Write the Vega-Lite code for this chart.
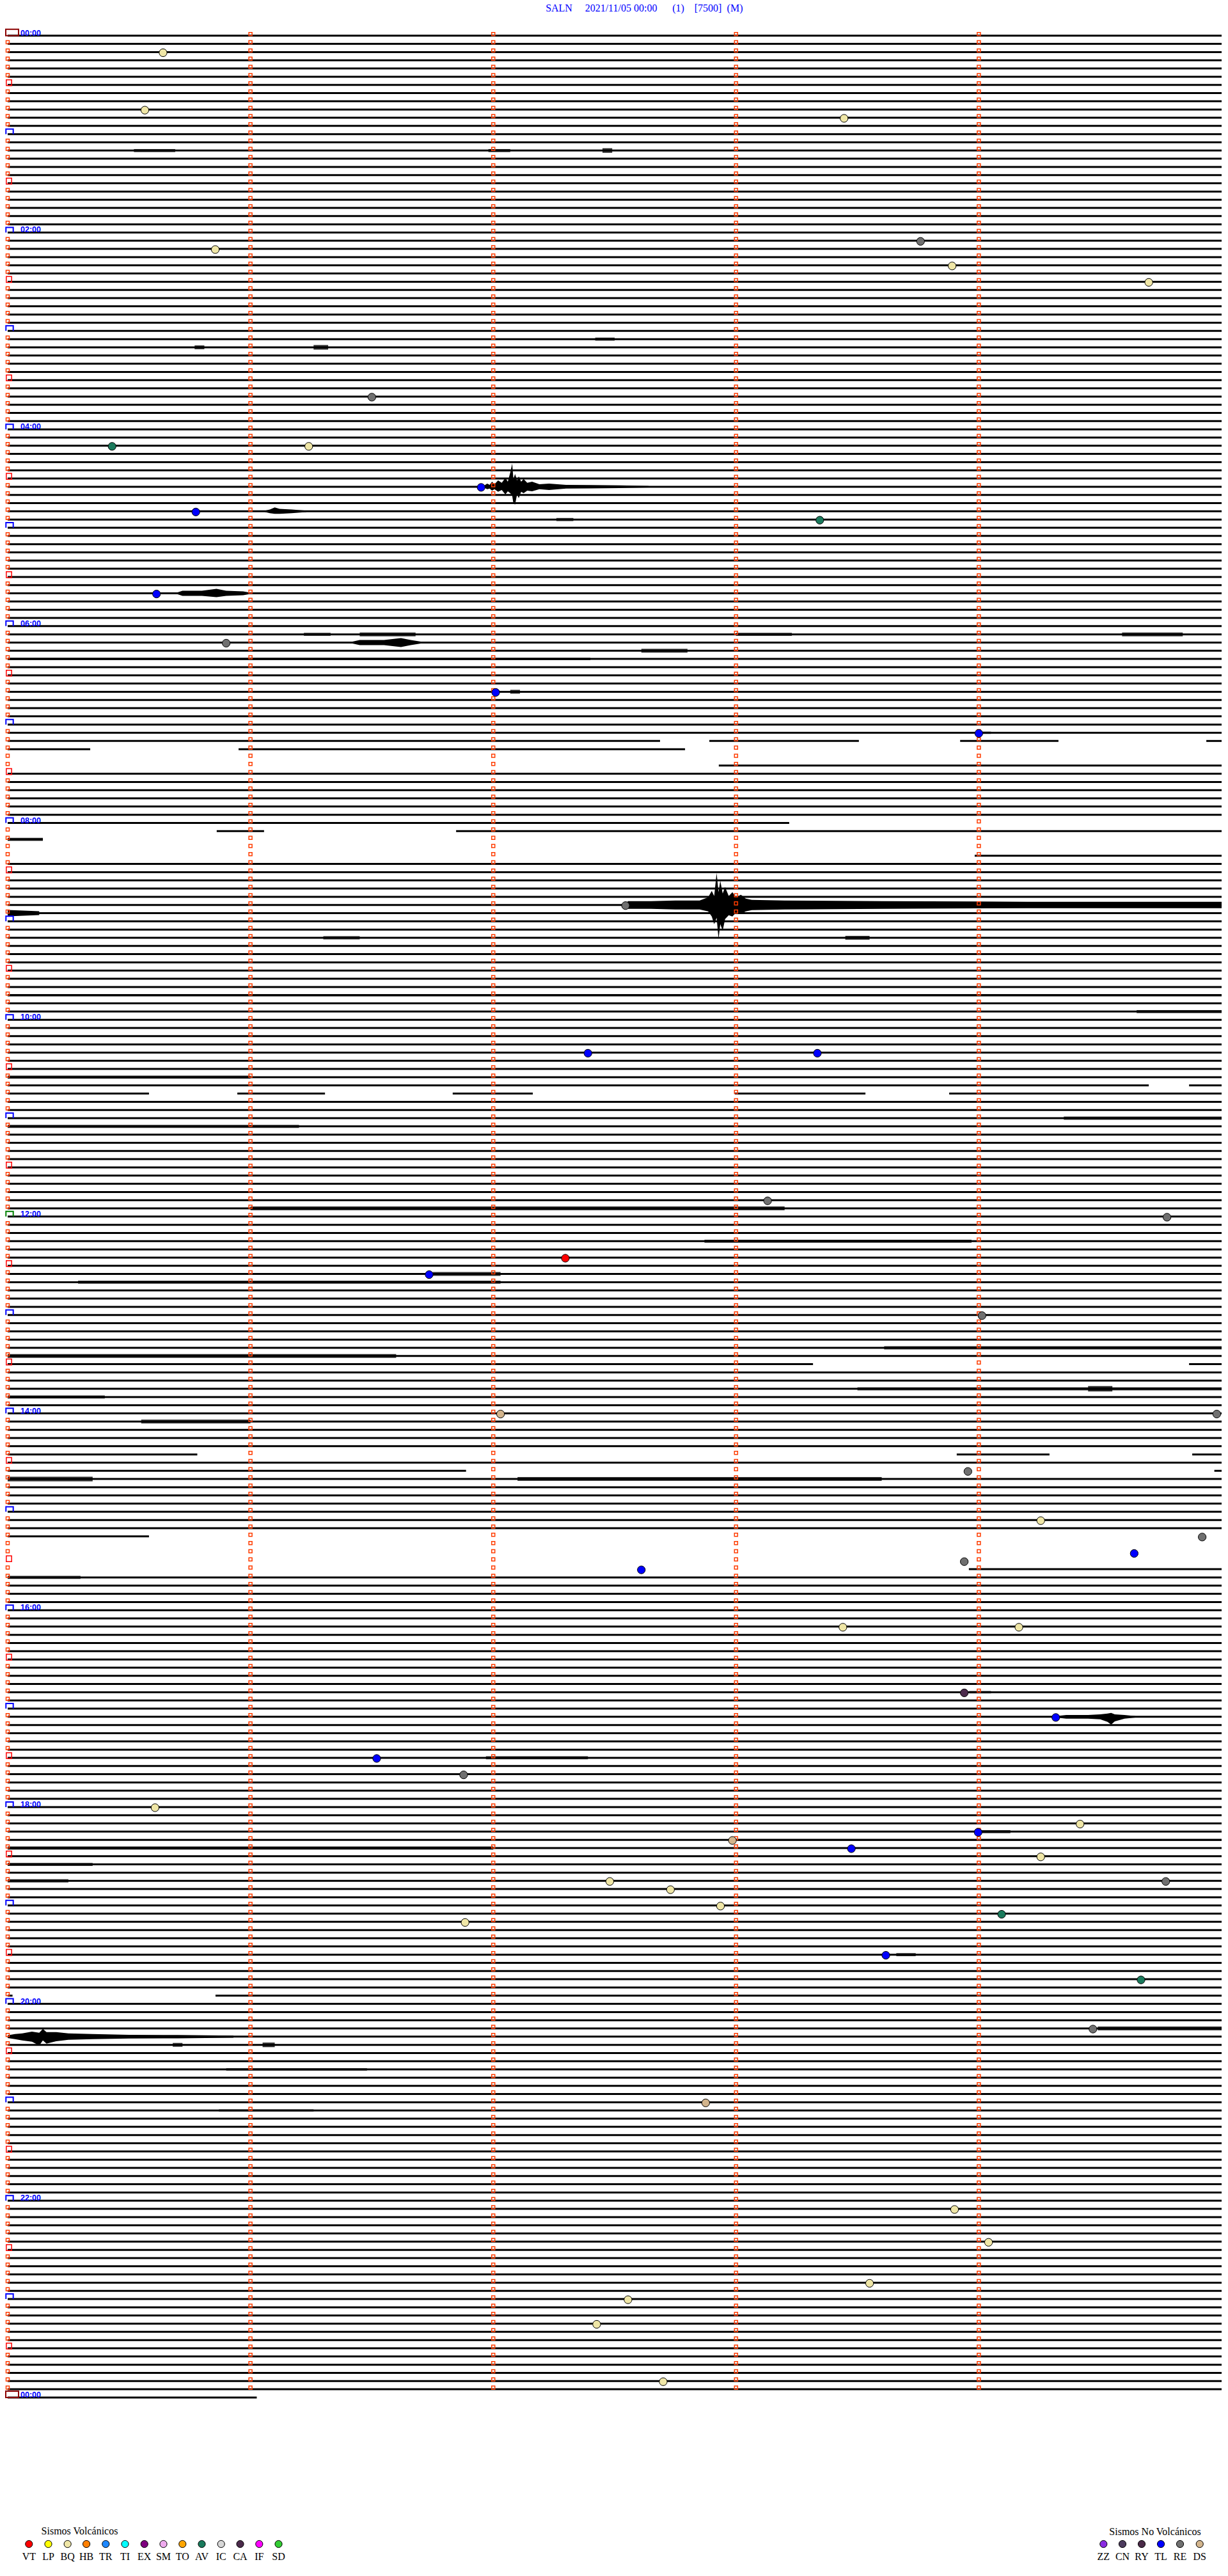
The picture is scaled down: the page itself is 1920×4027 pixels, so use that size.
{
"$schema":"https://vega.github.io/schema/vega-lite/v6.json",
"width":1920,"height":4027,"padding":0,
"autosize":{"type":"fit","contains":"padding"},
"background":"white",
"config":{"view":{"stroke":null}},
"datasets":{
"traza":[
{"r":0,"a":0,"b":5},{"r":1,"a":0,"b":5},{"r":2,"a":0,"b":5},{"r":3,"a":0,"b":5},{"r":4,"a":0,"b":5},{"r":5,"a":0,"b":5},{"r":6,"a":0,"b":5},{"r":7,"a":0,"b":5},{"r":8,"a":0,"b":5},{"r":9,"a":0,"b":5},
{"r":10,"a":0,"b":5},{"r":11,"a":0,"b":5},{"r":12,"a":0,"b":5},{"r":13,"a":0,"b":5},{"r":14,"a":0,"b":5},{"r":15,"a":0,"b":5},{"r":16,"a":0,"b":5},{"r":17,"a":0,"b":5},{"r":18,"a":0,"b":5},{"r":19,"a":0,"b":5},
{"r":20,"a":0,"b":5},{"r":21,"a":0,"b":5},{"r":22,"a":0,"b":5},{"r":23,"a":0,"b":5},{"r":24,"a":0,"b":5},{"r":25,"a":0,"b":5},{"r":26,"a":0,"b":5},{"r":27,"a":0,"b":5},{"r":28,"a":0,"b":5},{"r":29,"a":0,"b":5},
{"r":30,"a":0,"b":5},{"r":31,"a":0,"b":5},{"r":32,"a":0,"b":5},{"r":33,"a":0,"b":5},{"r":34,"a":0,"b":5},{"r":35,"a":0,"b":5},{"r":36,"a":0,"b":5},{"r":37,"a":0,"b":5},{"r":38,"a":0,"b":5},{"r":39,"a":0,"b":5},
{"r":40,"a":0,"b":5},{"r":41,"a":0,"b":5},{"r":42,"a":0,"b":5},{"r":43,"a":0,"b":5},{"r":44,"a":0,"b":5},{"r":45,"a":0,"b":5},{"r":46,"a":0,"b":5},{"r":47,"a":0,"b":5},{"r":48,"a":0,"b":5},{"r":49,"a":0,"b":5},
{"r":50,"a":0,"b":5},{"r":51,"a":0,"b":5},{"r":52,"a":0,"b":5},{"r":53,"a":0,"b":5},{"r":54,"a":0,"b":5},{"r":55,"a":0,"b":5},{"r":56,"a":0,"b":5},{"r":57,"a":0,"b":5},{"r":58,"a":0,"b":5},{"r":59,"a":0,"b":5},
{"r":60,"a":0,"b":5},{"r":61,"a":0,"b":5},{"r":62,"a":0,"b":5},{"r":63,"a":0,"b":5},{"r":64,"a":0,"b":5},{"r":65,"a":0,"b":5},{"r":66,"a":0,"b":5},{"r":67,"a":0,"b":5},{"r":68,"a":0,"b":5},{"r":69,"a":0,"b":5},
{"r":70,"a":0,"b":5},{"r":71,"a":0,"b":5},{"r":72,"a":0,"b":5},{"r":73,"a":0,"b":5},{"r":74,"a":0,"b":5},{"r":75,"a":0,"b":5},{"r":76,"a":0,"b":5},{"r":77,"a":0,"b":5},{"r":78,"a":0,"b":5},{"r":79,"a":0,"b":5},
{"r":80,"a":0,"b":5},{"r":81,"a":0,"b":5},{"r":82,"a":0,"b":5},{"r":83,"a":0,"b":5},{"r":84,"a":0,"b":5},{"r":85,"a":0,"b":5},
{"r":86,"a":0,"b":2.687},{"r":86,"a":2.89,"b":3.506},{"r":86,"a":3.923,"b":4.328},{"r":86,"a":4.937,"b":5},
{"r":87,"a":0,"b":0.34},{"r":87,"a":0.951,"b":2.79},
{"r":89,"a":2.929,"b":5},
{"r":90,"a":0,"b":5},{"r":91,"a":0,"b":5},{"r":92,"a":0,"b":5},{"r":93,"a":0,"b":5},{"r":94,"a":0,"b":5},{"r":95,"a":0,"b":5},
{"r":96,"a":0,"b":3.219},
{"r":97,"a":0.861,"b":1.056},{"r":97,"a":1.847,"b":5},
{"r":98,"a":0,"b":0.145},
{"r":100,"a":3.983,"b":5},
{"r":101,"a":0,"b":5},{"r":102,"a":0,"b":5},{"r":103,"a":0,"b":5},{"r":104,"a":0,"b":5},{"r":105,"a":0,"b":5},{"r":106,"a":0,"b":5},{"r":107,"a":0,"b":5},{"r":108,"a":0,"b":5},{"r":109,"a":0,"b":5},
{"r":110,"a":0,"b":5},{"r":111,"a":0,"b":5},{"r":112,"a":0,"b":5},{"r":113,"a":0,"b":5},{"r":114,"a":0,"b":5},{"r":115,"a":0,"b":5},{"r":116,"a":0,"b":5},{"r":117,"a":0,"b":5},{"r":118,"a":0,"b":5},{"r":119,"a":0,"b":5},
{"r":120,"a":0,"b":5},{"r":121,"a":0,"b":5},{"r":122,"a":0,"b":5},{"r":123,"a":0,"b":5},{"r":124,"a":0,"b":5},{"r":125,"a":0,"b":5},{"r":126,"a":0,"b":5},{"r":127,"a":0,"b":5},
{"r":128,"a":0,"b":4.70},{"r":128,"a":4.866,"b":5},
{"r":129,"a":0,"b":0.582},{"r":129,"a":0.946,"b":1.307},{"r":129,"a":1.833,"b":2.163},{"r":129,"a":2.995,"b":3.533},{"r":129,"a":3.878,"b":5},
{"r":130,"a":0,"b":5},{"r":131,"a":0,"b":5},{"r":132,"a":0,"b":5},{"r":133,"a":0,"b":5},{"r":134,"a":0,"b":5},{"r":135,"a":0,"b":5},{"r":136,"a":0,"b":5},{"r":137,"a":0,"b":5},{"r":138,"a":0,"b":5},{"r":139,"a":0,"b":5},
{"r":140,"a":0,"b":5},{"r":141,"a":0,"b":5},{"r":142,"a":0,"b":5},{"r":143,"a":0,"b":5},{"r":144,"a":0,"b":5},{"r":145,"a":0,"b":5},{"r":146,"a":0,"b":5},{"r":147,"a":0,"b":5},{"r":148,"a":0,"b":5},{"r":149,"a":0,"b":5},
{"r":150,"a":0,"b":5},{"r":151,"a":0,"b":5},{"r":152,"a":0,"b":5},{"r":153,"a":0,"b":5},{"r":154,"a":0,"b":5},{"r":155,"a":0,"b":5},{"r":156,"a":0,"b":5},{"r":157,"a":0,"b":5},{"r":158,"a":0,"b":5},{"r":159,"a":0,"b":5},
{"r":160,"a":0,"b":5},{"r":161,"a":0,"b":5},
{"r":162,"a":0,"b":3.317},{"r":162,"a":4.866,"b":5},
{"r":163,"a":0,"b":5},{"r":164,"a":0,"b":5},{"r":165,"a":0,"b":5},{"r":166,"a":0,"b":5},{"r":167,"a":0,"b":5},{"r":168,"a":0,"b":5},{"r":169,"a":0,"b":5},{"r":170,"a":0,"b":5},{"r":171,"a":0,"b":5},{"r":172,"a":0,"b":5},
{"r":173,"a":0,"b":0.781},{"r":173,"a":3.909,"b":4.291},{"r":173,"a":4.879,"b":5},
{"r":174,"a":0,"b":5},
{"r":175,"a":0,"b":1.888},{"r":175,"a":4.97,"b":5},
{"r":176,"a":0,"b":5},{"r":177,"a":0,"b":5},{"r":178,"a":0,"b":5},{"r":179,"a":0,"b":5},{"r":180,"a":0,"b":5},{"r":181,"a":0,"b":5},{"r":182,"a":0,"b":5},
{"r":183,"a":0,"b":0.582},
{"r":187,"a":3.959,"b":5},
{"r":188,"a":0,"b":5},{"r":189,"a":0,"b":5},
{"r":190,"a":0,"b":5},{"r":191,"a":0,"b":5},{"r":192,"a":0,"b":5},{"r":193,"a":0,"b":5},{"r":194,"a":0,"b":5},{"r":195,"a":0,"b":5},{"r":196,"a":0,"b":5},{"r":197,"a":0,"b":5},{"r":198,"a":0,"b":5},{"r":199,"a":0,"b":5},
{"r":200,"a":0,"b":5},{"r":201,"a":0,"b":5},{"r":202,"a":0,"b":5},{"r":203,"a":0,"b":5},{"r":204,"a":0,"b":5},{"r":205,"a":0,"b":5},{"r":206,"a":0,"b":5},{"r":207,"a":0,"b":5},{"r":208,"a":0,"b":5},{"r":209,"a":0,"b":5},
{"r":210,"a":0,"b":5},{"r":211,"a":0,"b":5},{"r":212,"a":0,"b":5},{"r":213,"a":0,"b":5},{"r":214,"a":0,"b":5},{"r":215,"a":0,"b":5},{"r":216,"a":0,"b":5},{"r":217,"a":0,"b":5},{"r":218,"a":0,"b":5},{"r":219,"a":0,"b":5},
{"r":220,"a":0,"b":5},{"r":221,"a":0,"b":5},{"r":222,"a":0,"b":5},{"r":223,"a":0,"b":5},{"r":224,"a":0,"b":5},{"r":225,"a":0,"b":5},{"r":226,"a":0,"b":5},{"r":227,"a":0,"b":5},{"r":228,"a":0,"b":5},{"r":229,"a":0,"b":5},
{"r":230,"a":0,"b":5},{"r":231,"a":0,"b":5},{"r":232,"a":0,"b":5},{"r":233,"a":0,"b":5},{"r":234,"a":0,"b":5},{"r":235,"a":0,"b":5},{"r":236,"a":0,"b":5},{"r":237,"a":0,"b":5},{"r":238,"a":0,"b":5},
{"r":239,"a":0,"b":0.02},{"r":239,"a":0.856,"b":5},
{"r":240,"a":0,"b":5},{"r":241,"a":0,"b":5},{"r":242,"a":0,"b":5},{"r":243,"a":0,"b":5},{"r":244,"a":0,"b":5},{"r":245,"a":0,"b":5},{"r":246,"a":0,"b":5},{"r":247,"a":0,"b":5},{"r":248,"a":0,"b":5},{"r":249,"a":0,"b":5},
{"r":250,"a":0,"b":5},{"r":251,"a":0,"b":5},{"r":252,"a":0,"b":5},{"r":253,"a":0,"b":5},{"r":254,"a":0,"b":5},{"r":255,"a":0,"b":5},{"r":256,"a":0,"b":5},{"r":257,"a":0,"b":5},{"r":258,"a":0,"b":5},{"r":259,"a":0,"b":5},
{"r":260,"a":0,"b":5},{"r":261,"a":0,"b":5},{"r":262,"a":0,"b":5},{"r":263,"a":0,"b":5},{"r":264,"a":0,"b":5},{"r":265,"a":0,"b":5},{"r":266,"a":0,"b":5},{"r":267,"a":0,"b":5},{"r":268,"a":0,"b":5},{"r":269,"a":0,"b":5},
{"r":270,"a":0,"b":5},{"r":271,"a":0,"b":5},{"r":272,"a":0,"b":5},{"r":273,"a":0,"b":5},{"r":274,"a":0,"b":5},{"r":275,"a":0,"b":5},{"r":276,"a":0,"b":5},{"r":277,"a":0,"b":5},{"r":278,"a":0,"b":5},{"r":279,"a":0,"b":5},
{"r":280,"a":0,"b":5},{"r":281,"a":0,"b":5},{"r":282,"a":0,"b":5},{"r":283,"a":0,"b":5},{"r":284,"a":0,"b":5},{"r":285,"a":0,"b":5},{"r":286,"a":0,"b":5},{"r":287,"a":0,"b":5},
{"r":288,"a":0,"b":1.026}
],
"ruido":[
{"r":14,"a":0.52,"b":0.69,"amp":4},{"r":14,"a":1.98,"b":2.07,"amp":4},{"r":14,"a":2.45,"b":2.49,"amp":6},
{"r":37,"a":2.42,"b":2.5,"amp":4},{"r":38,"a":0.77,"b":0.81,"amp":5},{"r":38,"a":1.26,"b":1.32,"amp":6},
{"r":59,"a":2.26,"b":2.33,"amp":4},
{"r":73,"a":1.22,"b":1.33,"amp":4},{"r":73,"a":1.45,"b":1.68,"amp":5},{"r":73,"a":3.0,"b":3.23,"amp":4},{"r":73,"a":4.59,"b":4.84,"amp":5},
{"r":75,"a":2.61,"b":2.8,"amp":5},{"r":76,"a":0,"b":2.4,"amp":3},
{"r":80,"a":2.07,"b":2.11,"amp":5},{"r":85,"a":4.0,"b":4.05,"amp":3},
{"r":98,"a":0,"b":0.145,"amp":4},{"r":110,"a":1.3,"b":1.45,"amp":4},{"r":110,"a":3.45,"b":3.55,"amp":5},
{"r":117,"a":0,"b":5,"amp":3},{"r":118,"a":0,"b":5,"amp":2.5},{"r":119,"a":4.65,"b":5,"amp":4},
{"r":127,"a":0,"b":1.0,"amp":4},{"r":132,"a":4.35,"b":5,"amp":4},{"r":133,"a":0,"b":1.2,"amp":4},
{"r":143,"a":1.0,"b":3.2,"amp":5},{"r":147,"a":2.87,"b":3.97,"amp":4},{"r":151,"a":1.75,"b":2.03,"amp":5},
{"r":152,"a":0.29,"b":2.03,"amp":4},{"r":160,"a":3.61,"b":5,"amp":4},{"r":161,"a":0,"b":1.6,"amp":5},
{"r":165,"a":3.5,"b":5,"amp":4},{"r":165,"a":4.45,"b":4.55,"amp":7},{"r":166,"a":0,"b":0.4,"amp":4},
{"r":169,"a":0.55,"b":1.0,"amp":5},{"r":176,"a":0,"b":0.35,"amp":6},{"r":176,"a":2.1,"b":3.6,"amp":5},
{"r":188,"a":0,"b":0.3,"amp":4},{"r":202,"a":3.96,"b":4.05,"amp":3},{"r":210,"a":1.97,"b":2.39,"amp":4},
{"r":219,"a":4.01,"b":4.13,"amp":4},{"r":220,"a":3.0,"b":5,"amp":2.5},{"r":221,"a":0,"b":2.0,"amp":4},
{"r":223,"a":0,"b":0.35,"amp":4},{"r":225,"a":0,"b":0.25,"amp":4},{"r":234,"a":3.66,"b":3.74,"amp":4},
{"r":243,"a":4.49,"b":5,"amp":5},{"r":245,"a":0.68,"b":0.72,"amp":5},{"r":245,"a":1.05,"b":1.1,"amp":6},
{"r":248,"a":0.9,"b":1.48,"amp":3},{"r":253,"a":0.87,"b":1.26,"amp":3}
],
"ondas":[
{"id":"A","t":1.96,"hi":54.92,"lo":55.08},{"id":"A","t":1.975,"hi":54.61,"lo":55.31},{"id":"A","t":1.985,"hi":54.77,"lo":55.23},{"id":"A","t":1.995,"hi":54.38,"lo":55.47},{"id":"A","t":2.005,"hi":54.69,"lo":55.31},
{"id":"A","t":2.02,"hi":54.22,"lo":55.62},{"id":"A","t":2.035,"hi":54.53,"lo":55.39},{"id":"A","t":2.05,"hi":53.91,"lo":55.94},{"id":"A","t":2.06,"hi":54.38,"lo":55.55},{"id":"A","t":2.07,"hi":53.28,"lo":55.78},
{"id":"A","t":2.078,"hi":52.19,"lo":56.09},{"id":"A","t":2.083,"hi":54.06,"lo":57.03},{"id":"A","t":2.09,"hi":53.44,"lo":57.18},{"id":"A","t":2.098,"hi":54.22,"lo":55.94},{"id":"A","t":2.105,"hi":53.75,"lo":56.4},
{"id":"A","t":2.115,"hi":54.38,"lo":55.62},{"id":"A","t":2.125,"hi":54.06,"lo":55.78},{"id":"A","t":2.14,"hi":54.53,"lo":55.47},{"id":"A","t":2.16,"hi":54.38,"lo":55.55},{"id":"A","t":2.19,"hi":54.69,"lo":55.31},
{"id":"A","t":2.23,"hi":54.61,"lo":55.39},{"id":"A","t":2.3,"hi":54.77,"lo":55.23},{"id":"A","t":2.4,"hi":54.8,"lo":55.2},{"id":"A","t":2.52,"hi":54.84,"lo":55.16},{"id":"A","t":2.64,"hi":54.92,"lo":55.08},
{"id":"B","t":2.545,"hi":105.92,"lo":106.08},{"id":"B","t":2.555,"hi":105.53,"lo":106.47},{"id":"B","t":2.65,"hi":105.53,"lo":106.47},{"id":"B","t":2.75,"hi":105.45,"lo":106.55},{"id":"B","t":2.85,"hi":105.45,"lo":106.55},
{"id":"B","t":2.885,"hi":105.06,"lo":106.78},{"id":"B","t":2.9,"hi":104.28,"lo":107.4},{"id":"B","t":2.91,"hi":104.91,"lo":108.34},{"id":"B","t":2.92,"hi":102.1,"lo":107.56},{"id":"B","t":2.928,"hi":104.44,"lo":110.13},
{"id":"B","t":2.935,"hi":103.04,"lo":108.34},{"id":"B","t":2.945,"hi":104.6,"lo":109.12},{"id":"B","t":2.955,"hi":103.82,"lo":107.72},{"id":"B","t":2.97,"hi":104.91,"lo":107.25},{"id":"B","t":2.985,"hi":104.44,"lo":107.4},
{"id":"B","t":3.0,"hi":105.06,"lo":106.94},{"id":"B","t":3.02,"hi":104.75,"lo":107.09},{"id":"B","t":3.04,"hi":105.22,"lo":106.78},{"id":"B","t":3.065,"hi":105.38,"lo":106.62},{"id":"B","t":3.2,"hi":105.45,"lo":106.55},
{"id":"B","t":3.6,"hi":105.53,"lo":106.47},{"id":"B","t":4.2,"hi":105.61,"lo":106.39},{"id":"B","t":5.0,"hi":105.61,"lo":106.39},
{"id":"B2","t":0,"hi":106.61,"lo":107.39},{"id":"B2","t":0.13,"hi":106.77,"lo":107.23},
{"id":"C","t":0,"hi":243.84,"lo":244.16},{"id":"C","t":0.03,"hi":243.69,"lo":244.31},{"id":"C","t":0.06,"hi":243.61,"lo":244.47},{"id":"C","t":0.1,"hi":243.38,"lo":244.62},{"id":"C","t":0.13,"hi":243.53,"lo":245.09},
{"id":"C","t":0.145,"hi":243.06,"lo":244.47},{"id":"C","t":0.16,"hi":243.45,"lo":244.86},{"id":"C","t":0.2,"hi":243.45,"lo":244.55},{"id":"C","t":0.25,"hi":243.61,"lo":244.39},{"id":"C","t":0.35,"hi":243.69,"lo":244.31},
{"id":"C","t":0.5,"hi":243.77,"lo":244.23},{"id":"C","t":0.7,"hi":243.8,"lo":244.2},{"id":"C","t":0.93,"hi":243.88,"lo":244.12},
{"id":"D","t":4.33,"hi":204.88,"lo":205.12},{"id":"D","t":4.36,"hi":204.77,"lo":205.23},{"id":"D","t":4.45,"hi":204.77,"lo":205.23},{"id":"D","t":4.5,"hi":204.69,"lo":205.31},{"id":"D","t":4.53,"hi":204.61,"lo":205.62},
{"id":"D","t":4.545,"hi":204.53,"lo":205.94},{"id":"D","t":4.56,"hi":204.69,"lo":205.55},{"id":"D","t":4.6,"hi":204.77,"lo":205.23},{"id":"D","t":4.645,"hi":204.92,"lo":205.08},
{"id":"E","t":1.06,"hi":57.92,"lo":58.08},{"id":"E","t":1.08,"hi":57.77,"lo":58.23},{"id":"E","t":1.1,"hi":57.53,"lo":58.31},{"id":"E","t":1.12,"hi":57.69,"lo":58.31},{"id":"E","t":1.17,"hi":57.77,"lo":58.23},{"id":"E","t":1.23,"hi":57.92,"lo":58.08},
{"id":"F","t":0.7,"hi":67.88,"lo":68.12},{"id":"F","t":0.72,"hi":67.69,"lo":68.31},{"id":"F","t":0.8,"hi":67.69,"lo":68.31},{"id":"F","t":0.86,"hi":67.45,"lo":68.47},{"id":"F","t":0.9,"hi":67.69,"lo":68.31},{"id":"F","t":0.97,"hi":67.77,"lo":68.23},{"id":"F","t":1.0,"hi":67.92,"lo":68.08},
{"id":"G","t":1.42,"hi":73.88,"lo":74.12},{"id":"G","t":1.45,"hi":73.69,"lo":74.31},{"id":"G","t":1.55,"hi":73.69,"lo":74.31},{"id":"G","t":1.62,"hi":73.45,"lo":74.55},{"id":"G","t":1.66,"hi":73.69,"lo":74.31},{"id":"G","t":1.71,"hi":73.92,"lo":74.08}
],
"filas":[
{"r":0},{"r":1},{"r":2},{"r":3},{"r":4},{"r":5},{"r":6},{"r":7},{"r":8},{"r":9},{"r":10},{"r":11},{"r":12},{"r":13},{"r":14},{"r":15},{"r":16},{"r":17},{"r":18},{"r":19},
{"r":20},{"r":21},{"r":22},{"r":23},{"r":24},{"r":25},{"r":26},{"r":27},{"r":28},{"r":29},{"r":30},{"r":31},{"r":32},{"r":33},{"r":34},{"r":35},{"r":36},{"r":37},{"r":38},{"r":39},
{"r":40},{"r":41},{"r":42},{"r":43},{"r":44},{"r":45},{"r":46},{"r":47},{"r":48},{"r":49},{"r":50},{"r":51},{"r":52},{"r":53},{"r":54},{"r":55},{"r":56},{"r":57},{"r":58},{"r":59},
{"r":60},{"r":61},{"r":62},{"r":63},{"r":64},{"r":65},{"r":66},{"r":67},{"r":68},{"r":69},{"r":70},{"r":71},{"r":72},{"r":73},{"r":74},{"r":75},{"r":76},{"r":77},{"r":78},{"r":79},
{"r":80},{"r":81},{"r":82},{"r":83},{"r":84},{"r":85},{"r":86},{"r":87},{"r":88},{"r":89},{"r":90},{"r":91},{"r":92},{"r":93},{"r":94},{"r":95},{"r":96},{"r":97},{"r":98},{"r":99},
{"r":100},{"r":101},{"r":102},{"r":103},{"r":104},{"r":105},{"r":106},{"r":107},{"r":108},{"r":109},{"r":110},{"r":111},{"r":112},{"r":113},{"r":114},{"r":115},{"r":116},{"r":117},{"r":118},{"r":119},
{"r":120},{"r":121},{"r":122},{"r":123},{"r":124},{"r":125},{"r":126},{"r":127},{"r":128},{"r":129},{"r":130},{"r":131},{"r":132},{"r":133},{"r":134},{"r":135},{"r":136},{"r":137},{"r":138},{"r":139},
{"r":140},{"r":141},{"r":142},{"r":143},{"r":144},{"r":145},{"r":146},{"r":147},{"r":148},{"r":149},{"r":150},{"r":151},{"r":152},{"r":153},{"r":154},{"r":155},{"r":156},{"r":157},{"r":158},{"r":159},
{"r":160},{"r":161},{"r":162},{"r":163},{"r":164},{"r":165},{"r":166},{"r":167},{"r":168},{"r":169},{"r":170},{"r":171},{"r":172},{"r":173},{"r":174},{"r":175},{"r":176},{"r":177},{"r":178},{"r":179},
{"r":180},{"r":181},{"r":182},{"r":183},{"r":184},{"r":185},{"r":186},{"r":187},{"r":188},{"r":189},{"r":190},{"r":191},{"r":192},{"r":193},{"r":194},{"r":195},{"r":196},{"r":197},{"r":198},{"r":199},
{"r":200},{"r":201},{"r":202},{"r":203},{"r":204},{"r":205},{"r":206},{"r":207},{"r":208},{"r":209},{"r":210},{"r":211},{"r":212},{"r":213},{"r":214},{"r":215},{"r":216},{"r":217},{"r":218},{"r":219},
{"r":220},{"r":221},{"r":222},{"r":223},{"r":224},{"r":225},{"r":226},{"r":227},{"r":228},{"r":229},{"r":230},{"r":231},{"r":232},{"r":233},{"r":234},{"r":235},{"r":236},{"r":237},{"r":238},{"r":239},
{"r":240},{"r":241},{"r":242},{"r":243},{"r":244},{"r":245},{"r":246},{"r":247},{"r":248},{"r":249},{"r":250},{"r":251},{"r":252},{"r":253},{"r":254},{"r":255},{"r":256},{"r":257},{"r":258},{"r":259},
{"r":260},{"r":261},{"r":262},{"r":263},{"r":264},{"r":265},{"r":266},{"r":267},{"r":268},{"r":269},{"r":270},{"r":271},{"r":272},{"r":273},{"r":274},{"r":275},{"r":276},{"r":277},{"r":278},{"r":279},
{"r":280},{"r":281},{"r":282},{"r":283},{"r":284},{"r":285},{"r":286},{"r":287}
],
"medias":[{"r":6},{"r":18},{"r":30},{"r":42},{"r":54},{"r":66},{"r":78},{"r":90},{"r":102},{"r":114},{"r":126},{"r":138},{"r":150},{"r":162},{"r":174},{"r":186},{"r":198},{"r":210},{"r":222},{"r":234},{"r":246},{"r":258},{"r":270},{"r":282}],
"horas":[
{"r":0,"h":"00:00","k":"fin"},{"r":12,"k":"hora"},{"r":24,"h":"02:00","k":"hora"},{"r":36,"k":"hora"},{"r":48,"h":"04:00","k":"hora"},{"r":60,"k":"hora"},
{"r":72,"h":"06:00","k":"hora"},{"r":84,"k":"hora"},{"r":96,"h":"08:00","k":"hora"},{"r":108,"k":"hora"},{"r":120,"h":"10:00","k":"hora"},{"r":132,"k":"hora"},
{"r":144,"h":"12:00","k":"verde"},{"r":156,"k":"hora"},{"r":168,"h":"14:00","k":"hora"},{"r":180,"k":"hora"},{"r":192,"h":"16:00","k":"hora"},{"r":204,"k":"hora"},
{"r":216,"h":"18:00","k":"hora"},{"r":228,"k":"hora"},{"r":240,"h":"20:00","k":"hora"},{"r":252,"k":"hora"},{"r":264,"h":"22:00","k":"hora"},{"r":276,"k":"hora"},
{"r":288,"h":"00:00","k":"fin"}
],
"sismos":[
{"r":2,"t":0.64,"tipo":"BQ"},{"r":9,"t":0.565,"tipo":"BQ"},{"r":10,"t":3.445,"tipo":"BQ"},{"r":25,"t":3.76,"tipo":"RE"},{"r":26,"t":0.855,"tipo":"BQ"},
{"r":28,"t":3.89,"tipo":"BQ"},{"r":30,"t":4.7,"tipo":"BQ"},{"r":44,"t":1.5,"tipo":"RE"},{"r":50,"t":0.43,"tipo":"AV"},{"r":50,"t":1.24,"tipo":"BQ"},
{"r":55,"t":1.95,"tipo":"TL"},{"r":58,"t":0.775,"tipo":"TL"},{"r":59,"t":3.345,"tipo":"AV"},{"r":68,"t":0.613,"tipo":"TL"},{"r":74,"t":0.9,"tipo":"RE"},
{"r":80,"t":2.01,"tipo":"TL"},{"r":85,"t":4.0,"tipo":"TL"},{"r":106,"t":2.545,"tipo":"RE"},{"r":124,"t":2.39,"tipo":"TL"},{"r":124,"t":3.335,"tipo":"TL"},
{"r":142,"t":3.13,"tipo":"RE"},{"r":144,"t":4.775,"tipo":"RE"},{"r":149,"t":2.297,"tipo":"VT"},{"r":151,"t":1.736,"tipo":"TL"},{"r":156,"t":4.013,"tipo":"RE"},
{"r":168,"t":2.03,"tipo":"DS"},{"r":168,"t":4.98,"tipo":"RE"},{"r":175,"t":3.955,"tipo":"RE"},{"r":181,"t":4.255,"tipo":"BQ"},{"r":183,"t":4.92,"tipo":"RE"},
{"r":185,"t":4.64,"tipo":"TL"},{"r":186,"t":3.94,"tipo":"RE"},{"r":187,"t":2.61,"tipo":"TL"},{"r":194,"t":3.44,"tipo":"BQ"},{"r":194,"t":4.165,"tipo":"BQ"},
{"r":202,"t":3.94,"tipo":"CA"},{"r":205,"t":4.317,"tipo":"TL"},{"r":210,"t":1.52,"tipo":"TL"},{"r":212,"t":1.878,"tipo":"RE"},{"r":216,"t":0.607,"tipo":"BQ"},
{"r":218,"t":4.417,"tipo":"BQ"},{"r":219,"t":3.997,"tipo":"TL"},{"r":220,"t":2.985,"tipo":"DS"},{"r":221,"t":3.475,"tipo":"TL"},{"r":222,"t":4.255,"tipo":"BQ"},
{"r":225,"t":2.48,"tipo":"BQ"},{"r":225,"t":4.77,"tipo":"RE"},{"r":226,"t":2.73,"tipo":"BQ"},{"r":228,"t":2.936,"tipo":"BQ"},{"r":229,"t":4.094,"tipo":"AV"},
{"r":230,"t":1.884,"tipo":"BQ"},{"r":234,"t":3.617,"tipo":"TL"},{"r":237,"t":4.668,"tipo":"AV"},{"r":243,"t":4.47,"tipo":"RE"},{"r":252,"t":2.875,"tipo":"DS"},
{"r":265,"t":3.9,"tipo":"BQ"},{"r":269,"t":4.04,"tipo":"BQ"},{"r":274,"t":3.55,"tipo":"BQ"},{"r":276,"t":2.555,"tipo":"BQ"},{"r":279,"t":2.426,"tipo":"BQ"},
{"r":286,"t":2.7,"tipo":"BQ"}
],
"leyenda":[
{"tipo":"VT","t":0.0877},{"tipo":"LP","t":0.1673},{"tipo":"BQ","t":0.2468},{"tipo":"HB","t":0.3243},{"tipo":"TR","t":0.4039},{"tipo":"TI","t":0.4834},{"tipo":"EX","t":0.563},
{"tipo":"SM","t":0.6415},{"tipo":"TO","t":0.72},{"tipo":"AV","t":0.7995},{"tipo":"IC","t":0.8791},{"tipo":"CA","t":0.9576},{"tipo":"IF","t":1.0361},{"tipo":"SD","t":1.1157},
{"tipo":"ZZ","t":4.5135},{"tipo":"CN","t":4.5917},{"tipo":"RY","t":4.6707},{"tipo":"TL","t":4.7498},{"tipo":"RE","t":4.8288},{"tipo":"DS","t":4.9097}
],
"textos":[
{"txt":"SALN","t":2.2709,"r":-3.35,"g":"titulo"},
{"txt":"2021/11/05 00:00","t":2.5264,"r":-3.35,"g":"titulo"},
{"txt":"(1)","t":2.7621,"r":-3.35,"g":"titulo"},
{"txt":"[7500]","t":2.8846,"r":-3.35,"g":"titulo"},
{"txt":"(M)","t":2.9953,"r":-3.35,"g":"titulo"},
{"txt":"Sismos Volcánicos","t":0.2964,"r":304.3,"g":"ley"},
{"txt":"Sismos No Volcánicos","t":4.7261,"r":304.35,"g":"ley"}
]
},
"layer":[
{"data":{"name":"traza"},
 "mark":{"type":"rule","color":"#000000","strokeWidth":3},
 "encoding":{
  "x":{"field":"a","type":"quantitative","scale":{"domain":[-0.0316,5.0263],"nice":false,"zero":false},"axis":null},
  "x2":{"field":"b"},
  "y":{"field":"r","type":"quantitative","scale":{"domain":[-4.353,309.77],"nice":false,"zero":false,"reverse":true},"axis":null}}},
{"data":{"name":"ruido"},
 "mark":{"type":"rule","color":"#000000","opacity":0.8},
 "encoding":{
  "x":{"field":"a","type":"quantitative","scale":{"domain":[-0.0316,5.0263],"nice":false,"zero":false},"axis":null},
  "x2":{"field":"b"},
  "y":{"field":"r","type":"quantitative","scale":{"domain":[-4.353,309.77],"nice":false,"zero":false,"reverse":true},"axis":null},
  "size":{"field":"amp","type":"quantitative","scale":{"type":"linear","domain":[0,10],"range":[0,12],"zero":true},"legend":null}}},
{"data":{"name":"ondas"},
 "mark":{"type":"area","orient":"vertical","color":"#000000","opacity":1},
 "encoding":{
  "x":{"field":"t","type":"quantitative","scale":{"domain":[-0.0316,5.0263],"nice":false,"zero":false},"axis":null},
  "y":{"field":"hi","type":"quantitative","scale":{"domain":[-4.353,309.77],"nice":false,"zero":false,"reverse":true},"axis":null},
  "y2":{"field":"lo"},
  "detail":{"field":"id","type":"nominal"}}},
{"data":{"name":"filas"},
 "transform":[{"filter":"datum.r % 6 != 0"}],
 "mark":{"type":"point","shape":"square","filled":false,"size":25,"stroke":"#ff3c00","strokeWidth":1.5,"opacity":1,"yOffset":-2.5},
 "encoding":{
  "x":{"datum":0,"type":"quantitative","scale":{"domain":[-0.0316,5.0263],"nice":false,"zero":false},"axis":null},
  "y":{"field":"r","type":"quantitative","scale":{"domain":[-4.353,309.77],"nice":false,"zero":false,"reverse":true},"axis":null}}},
{"data":{"name":"filas"},
 "mark":{"type":"point","shape":"square","filled":false,"size":25,"stroke":"#ff3c00","strokeWidth":1.5,"opacity":1,"yOffset":-2.5},
 "encoding":{
  "x":{"datum":1,"type":"quantitative","scale":{"domain":[-0.0316,5.0263],"nice":false,"zero":false},"axis":null},
  "y":{"field":"r","type":"quantitative","scale":{"domain":[-4.353,309.77],"nice":false,"zero":false,"reverse":true},"axis":null}}},
{"data":{"name":"filas"},
 "mark":{"type":"point","shape":"square","filled":false,"size":25,"stroke":"#ff3c00","strokeWidth":1.5,"opacity":1,"yOffset":-2.5},
 "encoding":{
  "x":{"datum":2,"type":"quantitative","scale":{"domain":[-0.0316,5.0263],"nice":false,"zero":false},"axis":null},
  "y":{"field":"r","type":"quantitative","scale":{"domain":[-4.353,309.77],"nice":false,"zero":false,"reverse":true},"axis":null}}},
{"data":{"name":"filas"},
 "mark":{"type":"point","shape":"square","filled":false,"size":25,"stroke":"#ff3c00","strokeWidth":1.5,"opacity":1,"yOffset":-2.5},
 "encoding":{
  "x":{"datum":3,"type":"quantitative","scale":{"domain":[-0.0316,5.0263],"nice":false,"zero":false},"axis":null},
  "y":{"field":"r","type":"quantitative","scale":{"domain":[-4.353,309.77],"nice":false,"zero":false,"reverse":true},"axis":null}}},
{"data":{"name":"filas"},
 "mark":{"type":"point","shape":"square","filled":false,"size":25,"stroke":"#ff3c00","strokeWidth":1.5,"opacity":1,"yOffset":-2.5},
 "encoding":{
  "x":{"datum":4,"type":"quantitative","scale":{"domain":[-0.0316,5.0263],"nice":false,"zero":false},"axis":null},
  "y":{"field":"r","type":"quantitative","scale":{"domain":[-4.353,309.77],"nice":false,"zero":false,"reverse":true},"axis":null}}},
{"data":{"name":"medias"},
 "mark":{"type":"point","shape":"M -1 -1.1 L 1 -1.1 L 1 1.1 L -1 1.1 Z","filled":false,"size":69,"stroke":"#ff0000","strokeWidth":1.5,"opacity":1,"xOffset":2,"yOffset":-3.5},
 "encoding":{
  "x":{"datum":0,"type":"quantitative","scale":{"domain":[-0.0316,5.0263],"nice":false,"zero":false},"axis":null},
  "y":{"field":"r","type":"quantitative","scale":{"domain":[-4.353,309.77],"nice":false,"zero":false,"reverse":true},"axis":null}}},
{"data":{"name":"horas"},
 "transform":[{"filter":"datum.k != 'fin'"}],
 "mark":{"type":"point","shape":"M -1 0.7 L -1 -0.7 L 1 -0.7 L 1 0.7","filled":false,"size":130,"strokeWidth":2,"opacity":1,"xOffset":3,"yOffset":-4},
 "encoding":{
  "x":{"datum":0,"type":"quantitative","scale":{"domain":[-0.0316,5.0263],"nice":false,"zero":false},"axis":null},
  "y":{"field":"r","type":"quantitative","scale":{"domain":[-4.353,309.77],"nice":false,"zero":false,"reverse":true},"axis":null},
  "stroke":{"field":"k","type":"nominal","scale":{"domain":["hora","verde"],"range":["#0000ff","#008000"]},"legend":null}}},
{"data":{"name":"horas"},
 "transform":[{"filter":"datum.k == 'fin'"}],
 "mark":{"type":"point","shape":"M -1 -0.5 L 1 -0.5 L 1 0.5 L -1 0.5 Z","filled":false,"size":400,"stroke":"#8b0000","strokeWidth":2,"opacity":1,"xOffset":7,"yOffset":-5},
 "encoding":{
  "x":{"datum":0,"type":"quantitative","scale":{"domain":[-0.0316,5.0263],"nice":false,"zero":false},"axis":null},
  "y":{"field":"r","type":"quantitative","scale":{"domain":[-4.353,309.77],"nice":false,"zero":false,"reverse":true},"axis":null}}},
{"data":{"name":"horas"},
 "transform":[{"filter":"isValid(datum.h)"}],
 "mark":{"type":"text","align":"left","baseline":"alphabetic","dx":20,"dy":0,"font":"Liberation Sans","fontWeight":"bold","fontSize":12.5,"color":"#0000ff"},
 "encoding":{
  "x":{"datum":0,"type":"quantitative","scale":{"domain":[-0.0316,5.0263],"nice":false,"zero":false},"axis":null},
  "y":{"field":"r","type":"quantitative","scale":{"domain":[-4.353,309.77],"nice":false,"zero":false,"reverse":true},"axis":null},
  "text":{"field":"h"}}},
{"data":{"name":"sismos"},
 "mark":{"type":"circle","size":150,"stroke":"#000000","strokeWidth":1,"opacity":1,"yOffset":1},
 "encoding":{
  "x":{"field":"t","type":"quantitative","scale":{"domain":[-0.0316,5.0263],"nice":false,"zero":false},"axis":null},
  "y":{"field":"r","type":"quantitative","scale":{"domain":[-4.353,309.77],"nice":false,"zero":false,"reverse":true},"axis":null},
  "fill":{"field":"tipo","type":"nominal","scale":{"domain":["VT","LP","BQ","HB","TR","TI","EX","SM","TO","AV","IC","CA","IF","SD","ZZ","CN","RY","TL","RE","DS"],"range":["#ff0000","#ffff00","#efe6a6","#ff8000","#1e88ff","#00ffff","#800080","#eeaaee","#ffa500","#1a7a5c","#d6d6d6","#4b2a4b","#ff00ff","#33cc33","#8a2be2","#4d3b5e","#4a2a48","#0000ff","#707070","#d2b48c"]},"legend":null}}},
{"data":{"name":"leyenda"},
 "mark":{"type":"circle","size":125,"stroke":"#000000","strokeWidth":1,"opacity":1},
 "encoding":{
  "x":{"field":"t","type":"quantitative","scale":{"domain":[-0.0316,5.0263],"nice":false,"zero":false},"axis":null},
  "y":{"datum":305.87,"type":"quantitative","scale":{"domain":[-4.353,309.77],"nice":false,"zero":false,"reverse":true},"axis":null},
  "fill":{"field":"tipo","type":"nominal","legend":null}}},
{"data":{"name":"leyenda"},
 "mark":{"type":"text","align":"center","baseline":"middle","font":"Liberation Serif","fontSize":16,"color":"#000000"},
 "encoding":{
  "x":{"field":"t","type":"quantitative","scale":{"domain":[-0.0316,5.0263],"nice":false,"zero":false},"axis":null},
  "y":{"datum":307.43,"type":"quantitative","scale":{"domain":[-4.353,309.77],"nice":false,"zero":false,"reverse":true},"axis":null},
  "text":{"field":"tipo"}}},
{"data":{"name":"textos"},
 "transform":[{"filter":"datum.g == 'titulo'"}],
 "mark":{"type":"text","align":"center","baseline":"middle","font":"Liberation Serif","fontSize":16,"color":"#0000ff"},
 "encoding":{
  "x":{"field":"t","type":"quantitative","scale":{"domain":[-0.0316,5.0263],"nice":false,"zero":false},"axis":null},
  "y":{"field":"r","type":"quantitative","scale":{"domain":[-4.353,309.77],"nice":false,"zero":false,"reverse":true},"axis":null},
  "text":{"field":"txt"}}},
{"data":{"name":"textos"},
 "transform":[{"filter":"datum.g == 'ley'"}],
 "mark":{"type":"text","align":"center","baseline":"middle","font":"Liberation Serif","fontSize":16,"color":"#000000"},
 "encoding":{
  "x":{"field":"t","type":"quantitative","scale":{"domain":[-0.0316,5.0263],"nice":false,"zero":false},"axis":null},
  "y":{"field":"r","type":"quantitative","scale":{"domain":[-4.353,309.77],"nice":false,"zero":false,"reverse":true},"axis":null},
  "text":{"field":"txt"}}}
]
}
